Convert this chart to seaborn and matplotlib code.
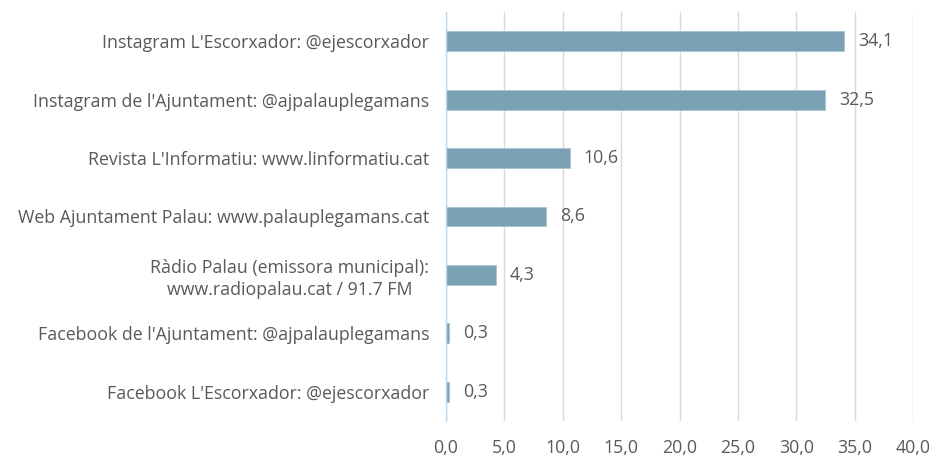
import matplotlib
matplotlib.use("Agg")
import matplotlib.pyplot as plt
import numpy as np
import pandas as pd
import seaborn as sns

categories = [
    "Instagram L'Escorxador: @ejescorxador",
    "Instagram de l'Ajuntament: @ajpalauplegamans",
    "Revista L'Informatiu: www.linformatiu.cat",
    "Web Ajuntament Palau: www.palauplegamans.cat",
    "Ràdio Palau (emissora municipal):\nwww.radiopalau.cat / 91.7 FM",
    "Facebook de l'Ajuntament: @ajpalauplegamans",
    "Facebook L'Escorxador: @ejescorxador",
]
values = [34.1, 32.5, 10.6, 8.6, 4.3, 0.3, 0.3]
x_ticks = [0, 5, 10, 15, 20, 25, 30, 35, 40]

df = pd.DataFrame({"canal": categories, "pct": values})

sns.set_theme(style="white")
plt.rcParams["font.family"] = ["Open Sans", "DejaVu Sans"]
text_color = "#595959"

fig = plt.figure(figsize=(9.35, 4.62), dpi=100)
ax = fig.add_axes([0.477, 0.089, 0.4995, 0.885])

sns.barplot(data=df, x="pct", y="canal", color="#7BA2B4", width=0.34,
            saturation=1, edgecolor="#A9C4D2", linewidth=0.6, ax=ax, zorder=3)

ax.set_xlim(0, 40)
ax.set_xticks(x_ticks)
ax.set_xticklabels([f"{t:.1f}".replace(".", ",") for t in x_ticks])
ax.xaxis.grid(True, color="#D9D9D9", linewidth=1, zorder=0)
ax.set_xlabel("")
ax.set_ylabel("")

for side in ["top", "right", "bottom"]:
    ax.spines[side].set_visible(False)
ax.spines["left"].set_color("#BDD7EE")
ax.spines["left"].set_linewidth(1)
ax.spines["left"].set_zorder(4)

ax.tick_params(axis="both", length=0, labelsize=12.8, colors=text_color)
ax.tick_params(axis="y", pad=12)
ax.tick_params(axis="x", pad=13)
for lbl in ax.get_yticklabels():
    lbl.set_multialignment("center")
    lbl.set_linespacing(1.3)

ax.bar_label(ax.containers[0], labels=[f"{v:.1f}".replace(".", ",") for v in values],
             padding=10, fontsize=12.8, color=text_color)

fig.savefig("out.png", dpi=100)
